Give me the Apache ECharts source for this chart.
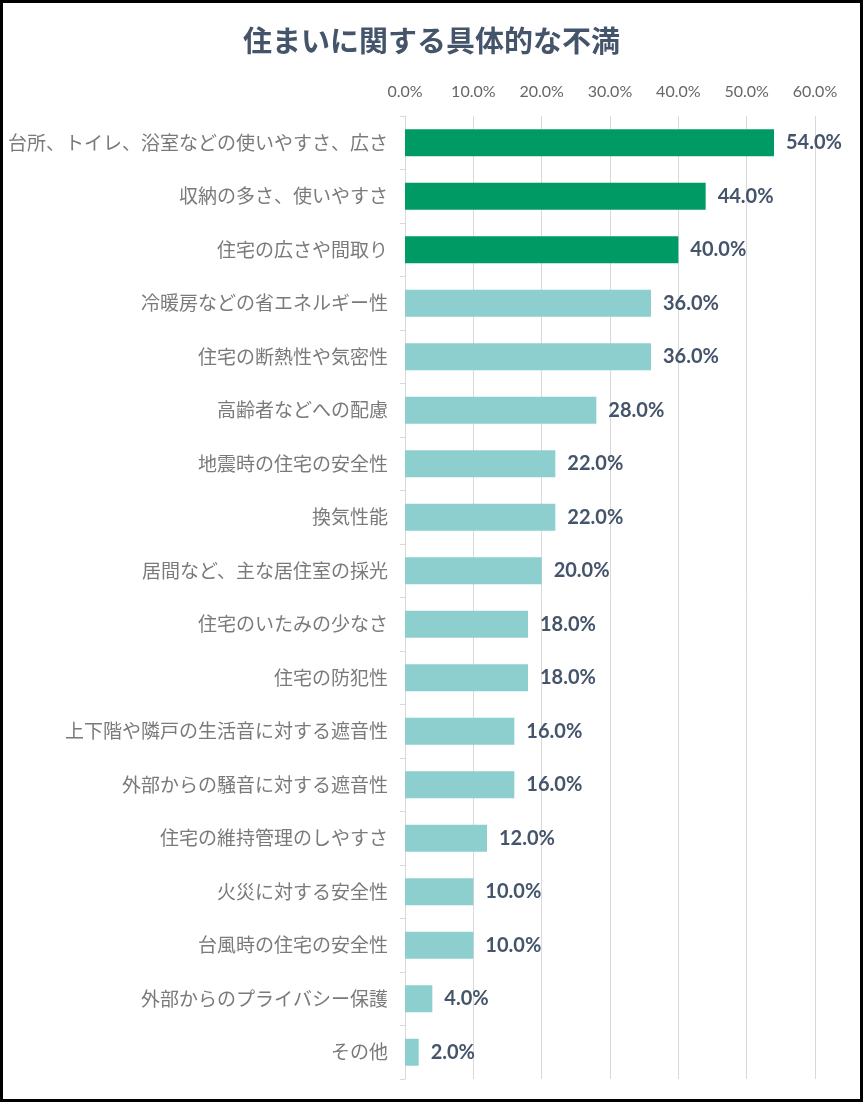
<!DOCTYPE html>
<html>
<head>
<meta charset="utf-8">
<script src="https://cdn.jsdelivr.net/npm/echarts@6/dist/echarts.min.js"></script>
<style>
  html, body { margin: 0; padding: 0; background: #fff; }
  #chart { width: 863px; height: 1102px; }
</style>
</head>
<body>
<div id="chart"></div>
<script>
// 住まいに関する具体的な不満 (top to bottom)
const categories = [
  '台所、トイレ、浴室などの使いやすさ、広さ',
  '収納の多さ、使いやすさ',
  '住宅の広さや間取り',
  '冷暖房などの省エネルギー性',
  '住宅の断熱性や気密性',
  '高齢者などへの配慮',
  '地震時の住宅の安全性',
  '換気性能',
  '居間など、主な居住室の採光',
  '住宅のいたみの少なさ',
  '住宅の防犯性',
  '上下階や隣戸の生活音に対する遮音性',
  '外部からの騒音に対する遮音性',
  '住宅の維持管理のしやすさ',
  '火災に対する安全性',
  '台風時の住宅の安全性',
  '外部からのプライバシー保護',
  'その他'
]
const values = [54, 44, 40, 36, 36, 28, 22, 22, 20, 18, 18, 16, 16, 12, 10, 10, 4, 2]
// top three are highlighted
const topCount = 3
const xTicks = [0, 10, 20, 30, 40, 50, 60]

const GREEN = '#009b65'
const TEAL = '#8dcfce'
const TEXT = '#44546a'

const chart = echarts.init(document.getElementById('chart'))

chart.setOption({
  animation: false,
  backgroundColor: '#fff',
  title: {
    text: '住まいに関する具体的な不満',
    left: 'center',
    top: 21,
    textStyle: {
      fontFamily: 'Noto Sans CJK JP',
      fontSize: 29,
      fontWeight: 'bold',
      color: TEXT,
    },
  },
  graphic: [{
    type: 'rect',
    shape: {x: 1.5, y: 1.5, width: 860, height: 1099},
    style: {fill: 'none', stroke: '#000', lineWidth: 3},
    z: 100,
  }],
  grid: {
    left: 405,
    right: 48,
    top: 116,
    bottom: 23,
    containLabel: false,
  },
  xAxis: {
    type: 'value',
    position: 'top',
    min: xTicks[0],
    max: xTicks[xTicks.length - 1],
    interval: 10,
    axisLine: {show: false},
    axisTick: {show: false},
    splitLine: {lineStyle: {color: '#d9d9d9', width: 1}},
    axisLabel: {
      margin: 16,
      fontFamily: 'Lato',
      fontSize: 16,
      color: '#666',
      formatter: v => v.toFixed(1) + '%',
    },
  },
  yAxis: {
    type: 'category',
    inverse: true,
    data: categories,
    axisLine: {show: true, lineStyle: {color: '#d9d9d9', width: 1}},
    axisTick: {show: true, length: 5, lineStyle: {color: '#d9d9d9'}},
    axisLabel: {
      margin: 17,
      fontFamily: 'Noto Sans CJK JP',
      fontSize: 19,
      color: '#7a7a7a',
    },
  },
  series: [{
    type: 'bar',
    barWidth: 27,
    data: values.map((v, i) => ({
      value: v,
      itemStyle: {color: i < topCount ? GREEN : TEAL},
    })),
    label: {
      show: true,
      position: 'right',
      distance: 12,
      fontFamily: 'Lato',
      fontSize: 20,
      fontWeight: 'bold',
      color: TEXT,
      formatter: p => p.value.toFixed(1) + '%',
    },
  }],
})
</script>
</body>
</html>
